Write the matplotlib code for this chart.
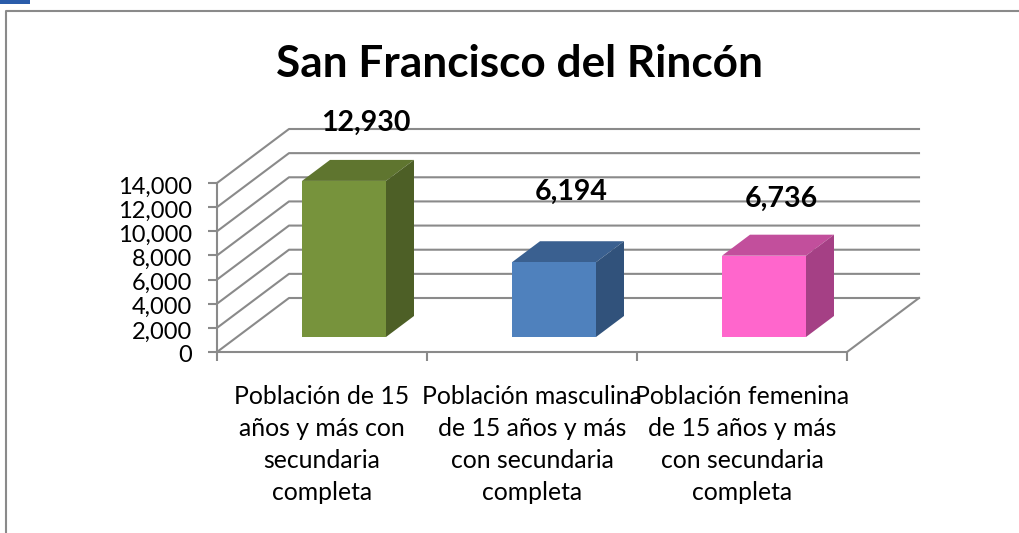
import matplotlib
matplotlib.use("Agg")
import matplotlib.pyplot as plt
from matplotlib.patches import Polygon, Rectangle
from matplotlib.ticker import FuncFormatter
from matplotlib.transforms import ScaledTranslation

categorias = ["Población de 15\naños y más con\nsecundaria\ncompleta",
              "Población masculina\nde 15 años y más\ncon secundaria\ncompleta",
              "Población femenina\nde 15 años y más\ncon secundaria\ncompleta"]
valores = [12930, 6194, 6736]
etiquetas = ["12,930", "6,194", "6,736"]
frente = ["#77933C", "#4F81BD", "#FF66CC"]
arriba = ["#5F752F", "#3A6090", "#C24F9C"]
lado = ["#4D5F26", "#31527B", "#A54085"]
yticks = list(range(0, 14001, 2000))

W, H = 1019, 533
plt.rcParams["font.family"] = ["Lato", "DejaVu Sans"]
fig = plt.figure(figsize=(W / 100, H / 100), dpi=100)

# ejes colocados en pixeles: x 217-847, y 352-183
ax = fig.add_axes([217 / W, 1 - 352 / H, 630 / W, 169 / H])
ax.set_xlim(0, 3)
ax.set_ylim(0, 14000)
ax.patch.set_visible(False)

gris = "#8A8A8A"
# fondo: profundidad en unidades de datos
px = 3 / 630
py = 14000 / 169
dx, dy = 72 * px, 54 * py

for v in yticks:
    ax.plot([0, dx, 3 + dx], [v, v + dy, v + dy], color=gris, lw=1.5, clip_on=False, zorder=1)
ax.plot([3, 3 + dx], [0, dy], color=gris, lw=1.5, clip_on=False, zorder=1)

# barras 3D: cara frontal, superior y lateral
ancho = 84 * px
fy = 15 * py
sx, sy = 28 * px, 21 * py
for i, v in enumerate(valores):
    x0 = i + 85 * px
    x1 = x0 + ancho
    y0 = fy
    y1 = fy + v
    ax.add_patch(Polygon([(x0, y1), (x1, y1), (x1 + sx, y1 + sy), (x0 + sx, y1 + sy)],
                         facecolor=arriba[i], edgecolor="none", clip_on=False, zorder=3))
    ax.add_patch(Polygon([(x1, y0), (x1 + sx, y0 + sy), (x1 + sx, y1 + sy), (x1, y1)],
                         facecolor=lado[i], edgecolor="none", clip_on=False, zorder=3))
    ax.add_patch(Rectangle((x0, y0), ancho, v, facecolor=frente[i], edgecolor="none",
                           clip_on=False, zorder=3))

# etiquetas de datos, movidas a mano como en el original
ax.text(149 * px, 19000, etiquetas[0], ha="center", va="center", fontsize=20.5,
        fontweight="bold", clip_on=False, zorder=5)
ax.text(354 * px, 13300, etiquetas[1], ha="center", va="center", fontsize=20.5,
        fontweight="bold", clip_on=False, zorder=5)
ax.text(564 * px, 12700, etiquetas[2], ha="center", va="center", fontsize=20.5,
        fontweight="bold", clip_on=False, zorder=5)

ax.set_yticks(yticks)
ax.yaxis.set_major_formatter(FuncFormatter(lambda v, p: f"{int(v):,}"))
ax.set_xticks([0, 1, 2, 3])
ax.set_xticklabels([])
ax.set_xticks([0.5, 1.5, 2.5], minor=True)
ax.set_xticklabels(categorias, minor=True, fontsize=17.8, linespacing=1.47)
ax.tick_params(axis="x", which="minor", length=0, pad=24)
ax.tick_params(axis="x", which="major", length=6.5, width=1.5, color=gris, direction="out")
ax.tick_params(axis="y", length=6.5, width=1.5, color=gris, labelsize=17, pad=11.5)
bajar = ScaledTranslation(0, -0.02, fig.dpi_scale_trans)
for t in ax.get_yticklabels():
    t.set_transform(t.get_transform() + bajar)
for s in ["top", "right"]:
    ax.spines[s].set_visible(False)
for s in ["left", "bottom"]:
    ax.spines[s].set_color(gris)
    ax.spines[s].set_linewidth(1.5)

# titulo y marco exterior
fig.text(519 / W, 1 - 64 / H, "San Francisco del Rincón", ha="center", va="center",
         fontsize=31.8, fontweight="bold")
fig.add_artist(plt.Line2D([6 / W, 6 / W, 1], [0, 1 - 11 / H, 1 - 11 / H],
                          color=gris, lw=1.5))
fig.add_artist(Rectangle((0, 1 - 4 / H), 30 / W, 4 / H, facecolor="#2A5CAA", edgecolor="none",
                         transform=fig.transFigure))

fig.savefig("out.png", dpi=100)
